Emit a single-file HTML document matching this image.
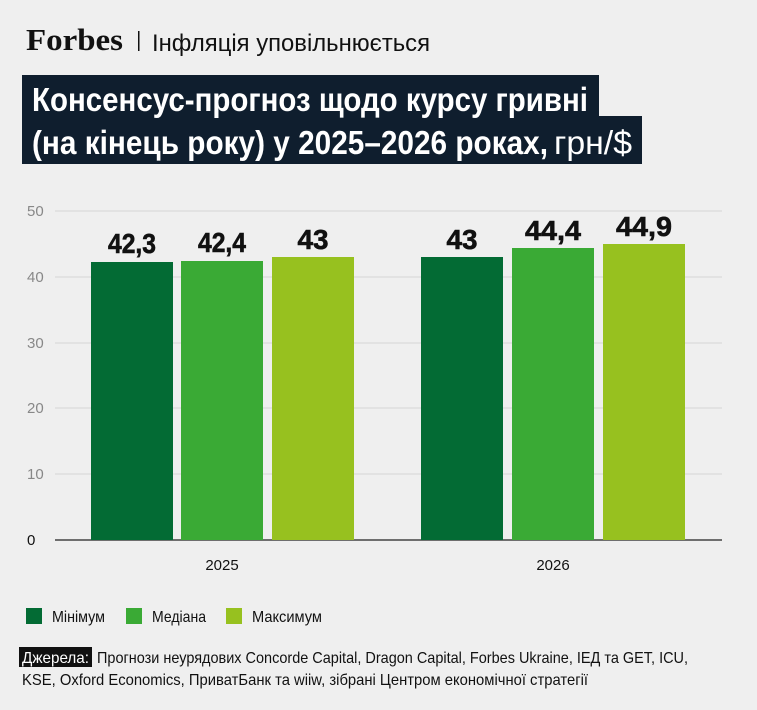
<!DOCTYPE html>
<html><head><meta charset="utf-8"><style>
html,body{margin:0;padding:0;background:#efefef;}
svg{display:block;font-family:"Liberation Sans Narrow","Liberation Sans",sans-serif;}
</style></head><body>
<svg width="757" height="710" viewBox="0 0 757 710" xmlns="http://www.w3.org/2000/svg">
<rect width="757" height="710" fill="#efefef"/>
<text x="26" y="50" font-family="Liberation Serif" font-weight="bold" font-size="31" textLength="97" lengthAdjust="spacingAndGlyphs" fill="#111">Forbes</text>
<rect x="138" y="31" width="1.5" height="20" fill="#111"/>
<text x="152" y="51" font-size="24" textLength="278" lengthAdjust="spacingAndGlyphs" fill="#111">Інфляція уповільнюється</text>
<rect x="22" y="75" width="577" height="46" fill="#0f1e2e"/>
<rect x="22" y="116" width="620" height="48" fill="#0f1e2e"/>
<text x="32" y="111" font-size="33" font-weight="bold" textLength="556" lengthAdjust="spacingAndGlyphs" fill="#fff">Консенсус-прогноз щодо курсу гривні</text>
<text x="32" y="154" font-size="33" font-weight="bold" textLength="516" lengthAdjust="spacingAndGlyphs" fill="#fff">(на кінець року) у 2025–2026 роках,</text>
<text x="554" y="154" font-size="33" textLength="78" lengthAdjust="spacingAndGlyphs" fill="#fff">грн/$</text>
<g stroke="#d4d4d4" stroke-width="1">
<line x1="55" x2="722" y1="211" y2="211"/>
<line x1="55" x2="722" y1="277" y2="277"/>
<line x1="55" x2="722" y1="343" y2="343"/>
<line x1="55" x2="722" y1="408" y2="408"/>
<line x1="55" x2="722" y1="474" y2="474"/>
</g>
<line x1="55" x2="722" y1="540" y2="540" stroke="#222" stroke-width="1.2"/>
<g font-size="15" fill="#888">
<text x="27" y="216">50</text><text x="27" y="282">40</text><text x="27" y="348">30</text>
<text x="27" y="413">20</text><text x="27" y="479">10</text><text x="27" y="545" fill="#111">0</text>
</g>
<rect x="91" y="262" width="82" height="278" fill="#036b34"/>
<rect x="181" y="261" width="82" height="279" fill="#3aaa35"/>
<rect x="272" y="257" width="82" height="283" fill="#97c11f"/>
<rect x="421" y="257" width="82" height="283" fill="#036b34"/>
<rect x="512" y="248" width="82" height="292" fill="#3aaa35"/>
<rect x="603" y="244" width="82" height="296" fill="#97c11f"/>
<g font-size="28" font-weight="900" fill="#111" stroke="#111" stroke-width="0.6" text-anchor="middle" lengthAdjust="spacingAndGlyphs">
<text x="132" y="253" textLength="48" lengthAdjust="spacingAndGlyphs">42,3</text>
<text x="222" y="252" textLength="48" lengthAdjust="spacingAndGlyphs">42,4</text>
<text x="313" y="249" textLength="31" lengthAdjust="spacingAndGlyphs">43</text>
<text x="462" y="249" textLength="31" lengthAdjust="spacingAndGlyphs">43</text>
<text x="553" y="240" textLength="56" lengthAdjust="spacingAndGlyphs">44,4</text>
<text x="644" y="236" textLength="56" lengthAdjust="spacingAndGlyphs">44,9</text>
</g>
<g font-size="15" fill="#111" text-anchor="middle">
<text x="222" y="570">2025</text><text x="553" y="570">2026</text>
</g>
<rect x="26" y="608" width="16" height="16" fill="#036b34"/>
<rect x="126" y="608" width="16" height="16" fill="#3aaa35"/>
<rect x="226" y="608" width="16" height="16" fill="#97c11f"/>
<g font-size="16" fill="#111">
<text x="52" y="622" textLength="53" lengthAdjust="spacingAndGlyphs">Мінімум</text>
<text x="152" y="622" textLength="54" lengthAdjust="spacingAndGlyphs">Медіана</text>
<text x="252" y="622" textLength="70" lengthAdjust="spacingAndGlyphs">Максимум</text>
</g>
<rect x="19" y="647" width="73" height="20" fill="#111"/>
<g font-size="16">
<text x="22" y="663" fill="#fff" textLength="67" lengthAdjust="spacingAndGlyphs">Джерела:</text>
<text x="97" y="663" fill="#111" textLength="591" lengthAdjust="spacingAndGlyphs">Прогнози неурядових Concorde Capital, Dragon Capital, Forbes Ukraine, ІЕД та GET, ICU,</text>
<text x="22" y="685" fill="#111" textLength="566" lengthAdjust="spacingAndGlyphs">KSE, Oxford Economics, ПриватБанк та wiiw, зібрані Центром економічної стратегії</text>
</g>
</svg>
</body></html>
